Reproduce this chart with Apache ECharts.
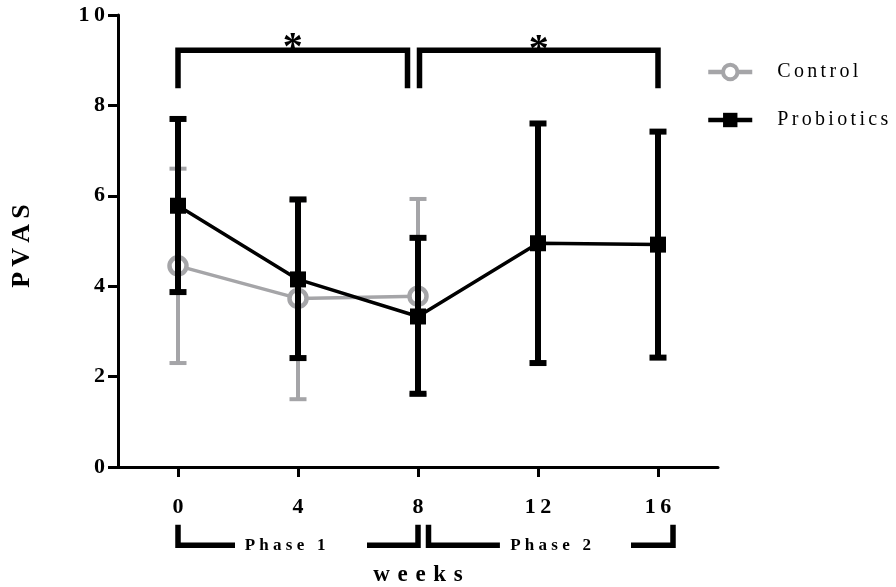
<!DOCTYPE html>
<html>
<head>
<meta charset="utf-8">
<script src="https://cdn.jsdelivr.net/npm/echarts@6/dist/echarts.min.js"></script>
<style>
  html, body { margin: 0; padding: 0; background: #fff; }
  #chart { width: 896px; height: 587px; }
</style>
</head>
<body>
<div id="chart"></div>
<script>
// values (PVAS, mean with error bars)
var controlWeeks = [0, 4, 8];
var controlMean = [4.45, 3.73, 3.78];
var controlLow = [2.3, 1.5, 1.6];
var controlHigh = [6.6, 5.9, 5.93];

var probioticWeeks = [0, 4, 8, 12, 16];
var probioticMean = [5.78, 4.15, 3.33, 4.95, 4.92];
var probioticLow = [3.87, 2.41, 1.62, 2.3, 2.42];
var probioticHigh = [7.7, 5.92, 5.07, 7.6, 7.42];

var xTicks = [0, 4, 8, 12, 16];
var yTicks = [0, 2, 4, 6, 8, 10];

// significance brackets: from week, to week, mark
var sigFrom = [0, 8.05];
var sigTo = [7.65, 16];
var sigMark = ['*', '*'];

// phase brackets under the axis (in weeks)
var phaseStart = [0, 8.35];
var phaseEnd = [8.0, 16.5];
var phaseGapFrom = [1.9, 10.73];
var phaseGapTo = [6.3, 15.1];
var phaseLabelAt = [3.57, 12.42];
var phaseNames = ['Phase 1', 'Phase 2'];

var SERIF = '"Liberation Serif", "Times New Roman", serif';
var GRAY = '#a5a5a8';

function spaced(s, sep) {
	return s.split('').join(sep);
}

function zip3(a, b, c) {
	var out = [];
	for (var i = 0; i < a.length; i++) out.push([a[i], b[i], c[i]]);
	return out;
}

function errorBars(color, lineW, capW) {
	return function (params, api) {
		var x = api.value(0);
		var lo = api.coord([x, api.value(1)]);
		var hi = api.coord([x, api.value(2)]);
		var h = capW / 2;
		var st = { stroke: color, lineWidth: lineW, fill: null };
		return {
			type: 'group',
			children: [
				{ type: 'line', shape: { x1: lo[0], y1: lo[1], x2: hi[0], y2: hi[1] }, style: st },
				{ type: 'line', shape: { x1: lo[0] - h, y1: lo[1], x2: lo[0] + h, y2: lo[1] }, style: st },
				{ type: 'line', shape: { x1: hi[0] - h, y1: hi[1], x2: hi[0] + h, y2: hi[1] }, style: st }
			]
		};
	};
}

var sigTop = 9.22, sigLeg = 8.38;
var phaseTop = -1.28, phaseBase = -1.73;

var chart = echarts.init(document.getElementById('chart'));

chart.setOption({
	animation: false,
	backgroundColor: '#fff',
	grid: { left: 118, top: 15, width: 600, height: 452, outerBoundsMode: 'none' },
	legend: {
		orient: 'vertical',
		left: 706,
		top: 62,
		padding: 0,
		itemWidth: 44,
		itemHeight: 18,
		itemGap: 28,
		data: [
			{ name: 'Control', itemStyle: { borderWidth: 4 } },
			{ name: 'Probiotics' }
		],
		lineStyle: { width: 4.5 },
		formatter: function (name) { return spaced(name, '\u2006'); },
		textStyle: { fontFamily: SERIF, fontSize: 20, color: '#000', padding: [0, 0, 0, 20] }
	},
	xAxis: {
		type: 'value',
		min: -2,
		max: 18,
		name: spaced('weeks', '\u2004'),
		nameLocation: 'middle',
		nameGap: 97,
		nameTextStyle: { fontFamily: SERIF, fontWeight: 'bold', fontSize: 23, color: '#000' },
		splitLine: { show: false },
		axisLine: { onZero: false, lineStyle: { color: '#000', width: 3 } },
		axisTick: { customValues: xTicks, length: 10, lineStyle: { color: '#000', width: 3 } },
		axisLabel: {
			customValues: xTicks,
			margin: 29,
			fontFamily: SERIF, fontWeight: 'bold', fontSize: 22, color: '#000',
			formatter: function (v) { return spaced(String(v), '\u2009'); }
		}
	},
	yAxis: {
		type: 'value',
		min: 0,
		max: 10,
		interval: 2,
		name: spaced('PVAS', '\u2009'),
		nameLocation: 'middle',
		nameGap: 83,
		nameTextStyle: { fontFamily: SERIF, fontWeight: 'bold', fontSize: 26, color: '#000', padding: [0, 10, 0, 0] },
		splitLine: { show: false },
		axisLine: { show: true, onZero: false, lineStyle: { color: '#000', width: 3 } },
		axisTick: { show: true, length: 10, lineStyle: { color: '#000', width: 3 } },
		axisLabel: {
			margin: 13,
			fontFamily: SERIF, fontWeight: 'bold', fontSize: 22, color: '#000',
			formatter: function (v) { return spaced(String(v), '\u2009'); }
		}
	},
	series: [{
		type: 'custom',
		name: 'controlErr',
		z: 3,
		renderItem: errorBars(GRAY, 4, 17),
		encode: { x: 0, y: [1, 2] },
		data: zip3(controlWeeks, controlLow, controlHigh)
	}, {
		type: 'line',
		name: 'Control',
		z: 4,
		color: GRAY,
		symbol: 'circle',
		symbolSize: 17,
		itemStyle: { color: '#fff', borderColor: GRAY, borderWidth: 4.5 },
		lineStyle: { color: GRAY, width: 3.5 },
		data: controlWeeks.map(function (w, i) { return [w, controlMean[i]]; })
	}, {
		type: 'custom',
		name: 'probErr',
		z: 5,
		renderItem: errorBars('#000', 6, 17),
		encode: { x: 0, y: [1, 2] },
		data: zip3(probioticWeeks, probioticLow, probioticHigh)
	}, {
		type: 'line',
		name: 'Probiotics',
		z: 6,
		color: '#000',
		symbol: 'rect',
		symbolSize: 16,
		itemStyle: { color: '#000', borderColor: '#000', borderWidth: 0 },
		lineStyle: { color: '#000', width: 3.5 },
		data: probioticWeeks.map(function (w, i) { return [w, probioticMean[i]]; })
	}, {
		type: 'custom',
		name: 'significance',
		z: 7,
		clip: false,
		encode: { x: [0, 1] },
		data: sigFrom.map(function (a, i) { return [a, sigTo[i]]; }),
		renderItem: function (params, api) {
			var a = api.value(0), b = api.value(1);
			var p0 = api.coord([a, sigLeg]), p1 = api.coord([a, sigTop]);
			var p2 = api.coord([b, sigTop]), p3 = api.coord([b, sigLeg]);
			var mid = api.coord([(a + b) / 2, sigTop]);
			return {
				type: 'group',
				children: [{
					type: 'polyline',
					shape: { points: [p0, p1, p2, p3] },
					style: { stroke: '#000', lineWidth: 5.5, fill: null, lineJoin: 'miter', lineCap: 'butt' }
				}, {
					type: 'text',
					x: mid[0],
					y: mid[1] + 18 + params.dataIndex * 2,
					style: {
						text: sigMark[params.dataIndex],
						font: 'bold 40px ' + SERIF,
						fill: '#000',
						align: 'center',
						verticalAlign: 'bottom'
					}
				}]
			};
		}
	}, {
		type: 'custom',
		name: 'phases',
		z: 7,
		clip: false,
		encode: { x: [0, 1] },
		data: phaseStart.map(function (a, i) { return [a, phaseEnd[i]]; }),
		renderItem: function (params, api) {
			var i = params.dataIndex;
			var st = { stroke: '#000', lineWidth: 5.5, fill: null, lineJoin: 'miter', lineCap: 'butt' };
			var left = [
				api.coord([phaseStart[i], phaseTop]),
				api.coord([phaseStart[i], phaseBase]),
				api.coord([phaseGapFrom[i], phaseBase])
			];
			var right = [
				api.coord([phaseGapTo[i], phaseBase]),
				api.coord([phaseEnd[i], phaseBase]),
				api.coord([phaseEnd[i], phaseTop])
			];
			var lp = api.coord([phaseLabelAt[i], phaseBase]);
			return {
				type: 'group',
				children: [
					{ type: 'polyline', shape: { points: left }, style: st },
					{ type: 'polyline', shape: { points: right }, style: st },
					{
						type: 'text',
						x: lp[0],
						y: lp[1],
						style: {
							text: spaced(phaseNames[i], ' '),
							font: 'bold 17px ' + SERIF,
							fill: '#000',
							align: 'center',
							verticalAlign: 'middle'
						}
					}
				]
			};
		}
	}]
});
</script>
</body>
</html>
